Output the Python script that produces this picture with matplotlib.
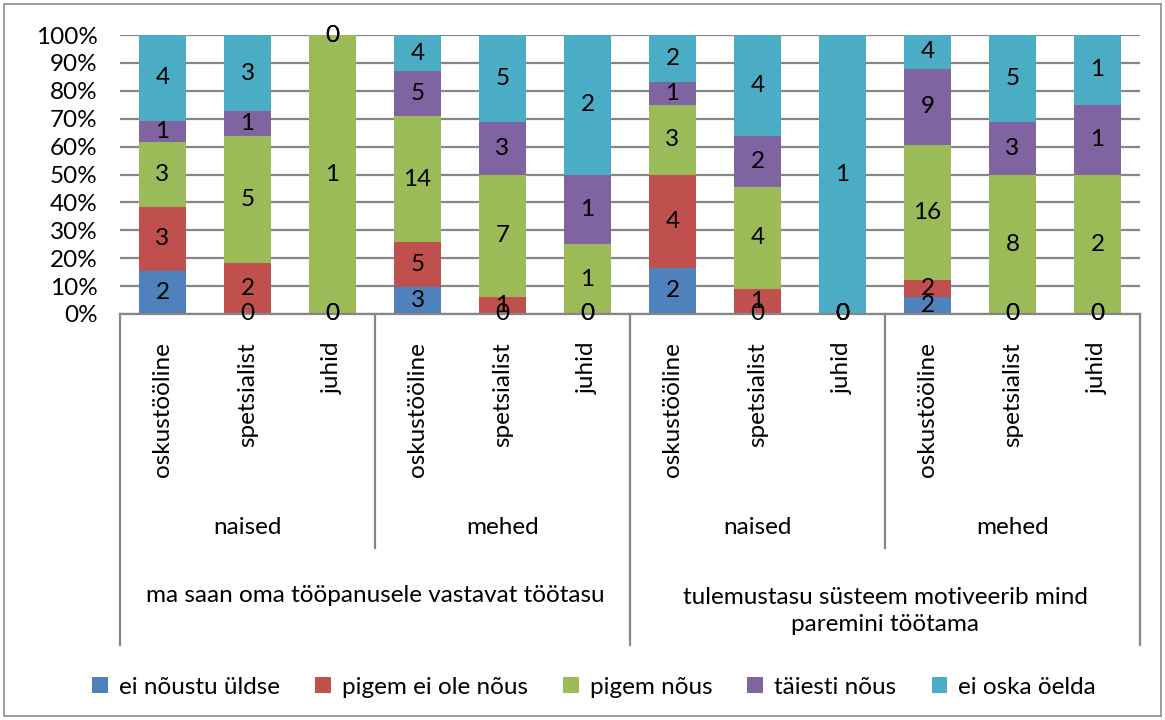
import matplotlib
matplotlib.use("Agg")
import matplotlib.pyplot as plt
from matplotlib.transforms import blended_transform_factory
from matplotlib.patches import Rectangle, Patch

plt.rcParams['font.family'] = ['Lato', 'DejaVu Sans']

# ---- data ----
roles = ["oskustööline", "spetsialist", "juhid"] * 4
genders = ["naised", "mehed", "naised", "mehed"]
questions = ["ma saan oma tööpanusele vastavat töötasu",
             "tulemustasu süsteem motiveerib mind\nparemini töötama"]
series_names = ["ei nõustu üldse", "pigem ei ole nõus", "pigem nõus", "täiesti nõus", "ei oska öelda"]
ei_noustu_uldse = [2, 0, 0, 3, 0, 0, 2, 0, 0, 2, 0, 0]
pigem_ei_ole_nous = [3, 2, 0, 5, 1, 0, 4, 1, 0, 2, 0, 0]
pigem_nous = [3, 5, 1, 14, 7, 1, 3, 4, 0, 16, 8, 2]
taiesti_nous = [1, 1, 0, 5, 3, 1, 1, 2, 0, 9, 3, 1]
ei_oska_oelda = [4, 3, 0, 4, 5, 2, 2, 4, 1, 4, 5, 1]
yticks = [0, 10, 20, 30, 40, 50, 60, 70, 80, 90, 100]

colors = ["#4F81BD", "#C0504D", "#9BBB59", "#8064A2", "#4BACC6"]
series = [ei_noustu_uldse, pigem_ei_ole_nous, pigem_nous, taiesti_nous, ei_oska_oelda]

W, H = 1165, 720
fig = plt.figure(figsize=(W / 100, H / 100), dpi=100)
FS = 17.5
GRID = "#868686"

left_px, right_px, top_px, bot_px = 120, 1140, 35, 314
ax = fig.add_axes([left_px / W, 1 - bot_px / H, (right_px - left_px) / W, (bot_px - top_px) / H])

n = len(roles)
x = list(range(n))
totals = [sum(s[i] for s in series) for i in range(n)]
bottoms = [0.0] * n
for vals, col in zip(series, colors):
    pct = [100.0 * v / t for v, t in zip(vals, totals)]
    ax.bar(x, pct, bottom=bottoms, width=0.56, color=col, zorder=3, linewidth=0)
    for i in range(n):
        ax.text(x[i], bottoms[i] + pct[i] / 2, str(vals[i]), ha="center", va="center",
                fontsize=FS, color="black", zorder=5, clip_on=False)
    bottoms = [b + p for b, p in zip(bottoms, pct)]

ax.set_xlim(-0.5, n - 0.5)
ax.set_ylim(0, 100)
ax.set_yticks(yticks)
ax.set_yticklabels([f"{v}%" for v in yticks], fontsize=FS)
ax.tick_params(axis="y", length=0, pad=16)
ax.set_xticks([])
ax.yaxis.grid(True, color=GRID, linewidth=1.6, zorder=0)
ax.set_axisbelow(True)
for s in ["top", "right", "left"]:
    ax.spines[s].set_visible(False)
ax.spines["bottom"].set_color(GRID)
ax.spines["bottom"].set_linewidth(1.6)
ax.spines["bottom"].set_zorder(4)

# hierarchical category axis
tr = blended_transform_factory(ax.transData, fig.transFigure)
def fy(py):
    return 1 - py / H

for i, r in enumerate(roles):
    ax.text(i, fy(342), r, rotation=90, ha="center", va="top", fontsize=FS, transform=tr)
for g, name in enumerate(genders):
    ax.text(g * 3 + 1, fy(528), name, ha="center", va="center", fontsize=FS, transform=tr)
ax.text(2.5, fy(595), questions[0], ha="center", va="center", fontsize=FS, transform=tr)
ax.text(8.5, fy(611), questions[1], ha="center", va="center", fontsize=FS, transform=tr,
        linespacing=1.3)

for xb in [-0.5, 5.5, 11.5]:
    ax.plot([xb, xb], [fy(bot_px), fy(645)], color=GRID, lw=1.6, transform=tr, clip_on=False)
for xb in [2.5, 8.5]:
    ax.plot([xb, xb], [fy(bot_px), fy(548)], color=GRID, lw=1.6, transform=tr, clip_on=False)

# legend
handles = [Patch(facecolor=c, edgecolor="none") for c in colors]
fig.legend(handles, series_names, loc="center", bbox_to_anchor=(594 / W, fy(687)), ncol=5,
           frameon=False, fontsize=FS, handlelength=0.65, handleheight=0.65,
           handletextpad=0.45, columnspacing=1.45)

# outer border
fig.patches.append(Rectangle((4 / W, 4 / H), (W - 8) / W, (H - 8) / H, transform=fig.transFigure,
                             fill=False, edgecolor="#8C8C8C", linewidth=1.2))

fig.savefig("out.png", dpi=100)
